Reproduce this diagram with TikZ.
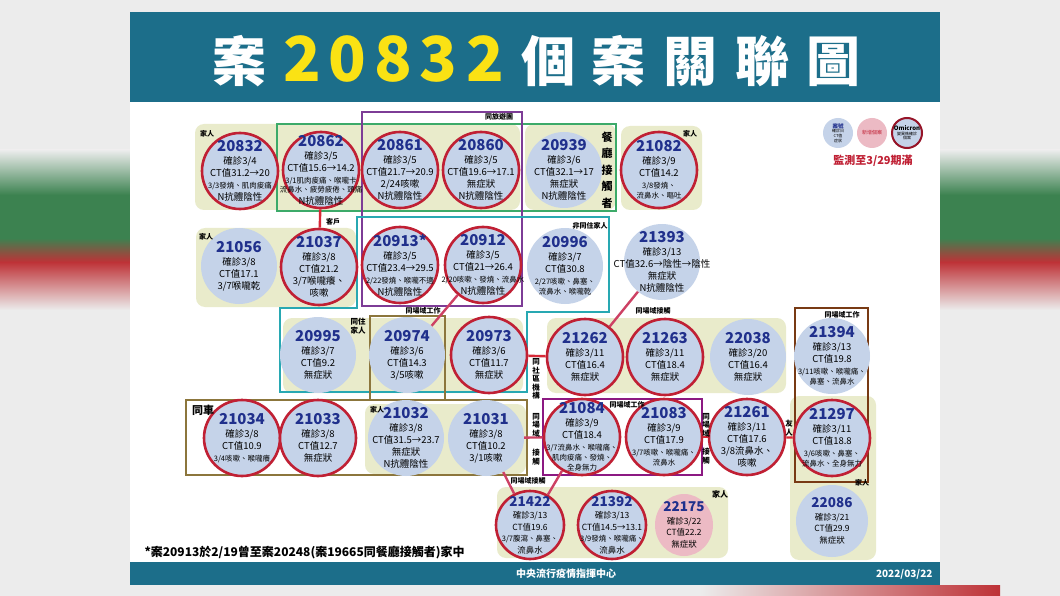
\documentclass[tikz,border=0pt]{standalone}
\usepackage{fontspec}
\setmainfont{Noto Sans CJK TC}
\usetikzlibrary{shapes.geometric}

\definecolor{bandteal}{RGB}{28,110,138}
\definecolor{titleyel}{RGB}{250,226,20}
\definecolor{casefill}{RGB}{197,211,233}
\definecolor{ringred}{RGB}{192,32,52}
\definecolor{casenavy}{RGB}{32,48,140}
\definecolor{famfill}{RGB}{233,235,203}
\definecolor{greenline}{RGB}{60,170,105}
\definecolor{purpleline}{RGB}{125,60,150}
\definecolor{tealline}{RGB}{40,168,178}
\definecolor{oliveline}{RGB}{140,118,60}
\definecolor{magline}{RGB}{140,25,130}
\definecolor{brownline}{RGB}{120,58,20}
\definecolor{linkred}{RGB}{215,40,55}
\definecolor{linkpink}{RGB}{205,65,100}
\definecolor{pinkfill}{RGB}{236,186,196}
\definecolor{ringdark}{RGB}{150,20,40}
\definecolor{bgpale}{RGB}{236,236,236}
\definecolor{bggreen}{RGB}{60,130,80}
\definecolor{bgred}{RGB}{190,50,55}

\def\numfont{\bfseries\fontsize{15}{16}\selectfont\color{casenavy}}
\def\numsmall{\bfseries\fontsize{13.5}{14}\selectfont\color{casenavy}}
\def\symp{\fontsize{7.5}{9}\selectfont}

\begin{document}
\begin{tikzpicture}[x=1pt,y=-1pt,
    case/.style={circle, fill=casefill, minimum size=76pt, inner sep=0pt},
    ringcase/.style={case, draw=ringred, line width=2.6pt},
    info/.style={align=center, inner sep=0pt, font=\fontsize{9.5}{12}\selectfont},
    famzone/.style={fill=famfill, rounded corners=9pt},
    frame/.style={line width=2.2pt},
    link/.style={draw=linkred, line width=2.4pt},
    tag/.style={inner sep=0pt, font=\bfseries\fontsize{7}{8}\selectfont},
    vtag/.style={tag, align=center, font=\bfseries\fontsize{7.5}{8.5}\selectfont}]
    \useasboundingbox (0,0) rectangle (1060,596);

    % blurred surround
    \fill[bgpale] (0,0) rectangle (1060,596);
    \foreach \xa/\xb in {0/130,940/1060} {
      \shade[top color=bgpale, bottom color=bggreen] (\xa,150) rectangle (\xb,195);
      \fill[bggreen] (\xa,195) rectangle (\xb,238);
      \shade[top color=bggreen, bottom color=bgred] (\xa,238) rectangle (\xb,262);
      \shade[top color=bgred, bottom color=bgpale] (\xa,262) rectangle (\xb,310);
    }
    \shade[left color=bgpale, right color=bgred] (700,585) rectangle (1000,596);

    % panel
    \fill[bandteal] (130,12) rectangle (940,102);
    \fill[white] (130,102) rectangle (940,562);
    \fill[bandteal] (130,562) rectangle (940,585);

    \foreach \x/\ch/\col/\sz [count=\i] in {239/案/white/54,302/2/titleyel/62,347/0/titleyel/62,
        393/8/titleyel/62,438/3/titleyel/62,485/2/titleyel/62,548/個/white/54,618/案/white/54,
        690/關/white/54,762/聯/white/54,833/圖/white/54} {
      \node[anchor=base, inner sep=0pt, text=\col, font=\bfseries\fontsize{\sz}{\sz}\selectfont]
        (title\i) at (\x,82) {\ch};
    }
    \node[text=white, font=\bfseries\fontsize{10}{12}\selectfont] (foot) at (566,574) {中央流行疫情指揮中心};
    \node[anchor=east, text=white, font=\bfseries\fontsize{10}{12}\selectfont] (date) at (936,574) {2022/03/22};

    % family zones
    \foreach \xa/\ya/\xb/\yb in {195/124/520/210,525/124/616/210,621/126/702/210,196/228/356/307,
        283/318/523/393,547/318/786/393,365/404/526/474,497/487/728/558,790/396/876/560} {
      \fill[famzone] (\xa,\ya) rectangle (\xb,\yb);
    }

    % group frames
    \draw[frame, draw=greenline] (277,124) rectangle (616,211);
    \draw[frame, draw=purpleline] (362,112) rectangle (522,306);
    \draw[frame, draw=tealline] (357,217) -- (609,217) -- (609,312) -- (527,312) -- (527,392)
      -- (280,392) -- (280,308) -- (357,308) -- cycle;
    \draw[frame, draw=oliveline] (370,316) rectangle (445,400);
    \draw[frame, draw=oliveline] (186,400) rectangle (527,475);
    \draw[frame, draw=magline, line width=2.8pt] (543,399) rectangle (702,475);
    \draw[frame, draw=brownline] (795,308) rectangle (868,482);

    % cases
    \foreach \x/\y/\num/\kind/\txt in {
      240/171/20832/ringcase/{確診3/4\\CT值31.2→20\\{\symp 3/3發燒、肌肉痠痛}\\N抗體陰性},
      321/170/20862/ringcase/{確診3/5\\CT值15.6→14.2\\{\symp 3/1肌肉痠痛、喉嚨卡}\\[-3pt]{\symp 流鼻水、疲勞疲倦、頭痛}\\N抗體陰性},
      400/170/20861/ringcase/{確診3/5\\CT值21.7→20.9\\2/24咳嗽\\N抗體陰性},
      481/170/20860/ringcase/{確診3/5\\CT值19.6→17.1\\無症狀\\N抗體陰性},
      564/170/20939/case/{確診3/6\\CT值32.1→17\\無症狀\\N抗體陰性},
      659/170/21082/ringcase/{確診3/9\\CT值14.2\\{\symp 3/8發燒、}\\[-2pt]{\symp 流鼻水、嘔吐}},
      239/266/21056/case/{確診3/8\\CT值17.1\\3/7喉嚨乾},
      319/267/21037/ringcase/{確診3/8\\CT值21.2\\3/7喉嚨癢、\\咳嗽},
      483/265/20912/ringcase/{確診3/5\\CT值21→26.4\\{\symp 2/20咳嗽、發燒、流鼻水}\\N抗體陰性},
      565/266/20996/case/{確診3/7\\CT值30.8\\{\symp 2/27咳嗽、鼻塞、}\\[-2pt]{\symp 流鼻水、喉嚨乾}},
      662/262/21393/case/{確診3/13\\CT值32.6→陰性→陰性\\無症狀\\N抗體陰性},
      318/355/20995/case/{確診3/7\\CT值9.2\\無症狀},
      407/355/20974/case/{確診3/6\\CT值14.3\\3/5咳嗽},
      489/355/20973/ringcase/{確診3/6\\CT值11.7\\無症狀},
      585/357/21262/ringcase/{確診3/11\\CT值16.4\\無症狀},
      665/357/21263/ringcase/{確診3/11\\CT值18.4\\無症狀},
      748/357/22038/case/{確診3/20\\CT值16.4\\無症狀},
      832/356/21394/case/{確診3/13\\CT值19.8\\{\symp 3/11咳嗽、喉嚨痛、}\\[-2pt]{\symp 鼻塞、流鼻水}},
      242/438/21034/ringcase/{確診3/8\\CT值10.9\\{\symp 3/4咳嗽、喉嚨癢}},
      318/438/21033/ringcase/{確診3/8\\CT值12.7\\無症狀},
      406/438/21032/case/{確診3/8\\CT值31.5→23.7\\無症狀\\N抗體陰性},
      486/438/21031/case/{確診3/8\\CT值10.2\\3/1咳嗽},
      582/437/21084/ringcase/{確診3/9\\CT值18.4\\{\symp 3/7流鼻水、喉嚨痛、}\\[-2pt]{\symp 肌肉痠痛、發燒、}\\[-2pt]{\symp 全身無力}},
      664/437/21083/ringcase/{確診3/9\\CT值17.9\\{\symp 3/7咳嗽、喉嚨痛、}\\[-2pt]{\symp 流鼻水}},
      747/437/21261/ringcase/{確診3/11\\CT值17.6\\3/8流鼻水、\\咳嗽},
      832/438/21297/ringcase/{確診3/11\\CT值18.8\\{\symp 3/6咳嗽、鼻塞、}\\[-2pt]{\symp 流鼻水、全身無力}}} {
      \node[\kind] (c\num) at (\x,\y) {};
      \node[info] (t\num) at (c\num) {{\numfont\num}\\[1pt]\txt};
    }
    \node[ringcase] (c20913) at (400,265) {};
    \node[info] (t20913) at (c20913) {{\numfont 20913*}\\[1pt]確診3/5\\CT值23.4→29.5\\{\symp 2/22發燒、喉嚨不適}\\N抗體陰性};

    \foreach \x/\y/\num/\kind/\sz/\txt in {
      530/525/21422/ringcase/68/{確診3/13\\CT值19.6\\{\symp 3/7腹瀉、鼻塞、}\\流鼻水},
      612/525/21392/ringcase/68/{確診3/13\\CT值14.5→13.1\\{\symp 3/9發燒、喉嚨痛、}\\流鼻水},
      832/521/22086/case/72/{確診3/21\\CT值29.9\\無症狀}} {
      \node[\kind, minimum size=\sz pt] (c\num) at (\x,\y) {};
      \node[info, font=\fontsize{8.5}{11.5}\selectfont] (t\num) at (c\num) {{\numsmall\num}\\[1pt]\txt};
    }
    \node[case, ellipse, fill=pinkfill, minimum width=58pt, minimum height=62pt] (c22175) at (684,525) {};
    \node[info, font=\fontsize{8.5}{11.5}\selectfont] (t22175) at (c22175) {{\numsmall 22175}\\[1pt]確診3/22\\CT值22.2\\無症狀};

    % links
    \draw[link] (c20862) -- (c21037);
    \draw[link, draw=linkpink] (c20912) -- (c20974);
    \draw[link] (c20973) -- (c21262);
    \draw[link, draw=linkpink] (c21393) -- (c21262);
    \draw[link, draw=linkpink] (c21031) -- (c21084);
    \draw[link] (c21083) -- (c21261);
    \draw[link] (c21261) -- (c21297);
    \draw[link, draw=linkpink] (c21031) -- (c21422);
    \draw[link, draw=linkpink] (c21084) -- (c21422);

    % labels
    \node[tag] (fam1) at (207,134) {家人};
    \node[tag] (fam2) at (690,134) {家人};
    \node[tag] (tour) at (499,117) {同旅遊團};
    \node[vtag, font=\bfseries\fontsize{11}{16.5}\selectfont] (diner) at (607,170) {餐\\廳\\接\\觸\\者};
    \node[tag] (client) at (333,222) {客戶};
    \node[tag] (fam3) at (206,237) {家人};
    \node[tag] (nonres) at (590,226) {非同住家人};
    \node[vtag] (cores) at (358,326) {同住\\家人};
    \node[tag] (work1) at (423,311) {同場域工作};
    \node[tag] (cont1) at (653,311) {同場域接觸};
    \node[tag] (work2) at (842,315) {同場域工作};
    \node[tag, font=\bfseries\fontsize{11}{12}\selectfont] (car) at (203,410) {同車};
    \node[tag] (fam4) at (377,410) {家人};
    \node[tag] (work3) at (627,405) {同場域工作};
    \node[tag] (cont2) at (528,481) {同場域接觸};
    \node[tag, font=\bfseries\fontsize{8}{9}\selectfont] (fam5) at (720,494) {家人};
    \node[tag] (fam6) at (862,483) {家人};
    \node[vtag] (comm) at (536,379) {同\\社\\區\\機\\構};
    \node[vtag] (cont3) at (536,425) {同\\場\\域};
    \node[vtag] (cont4) at (536,457) {接\\觸};
    \node[vtag] (cont5) at (706,425) {同\\場\\域};
    \node[vtag] (cont6) at (706,456) {接\\觸};
    \node[vtag] (friend) at (789,428) {友\\人};

    % legend
    \node[case, minimum size=30pt] (key1) at (838,133) {};
    \node[case, fill=pinkfill, minimum size=30pt] (key2) at (872,133) {};
    \node[case, draw=ringdark, line width=2pt, minimum size=30pt] (key3) at (907,133) {};
    \node[align=center, inner sep=0pt, font=\fontsize{4}{4.6}\selectfont] (keyt1) at (key1)
      {{\bfseries\color{casenavy}\fontsize{5.5}{6}\selectfont 案號}\\確診日\\CT值\\症狀};
    \node[inner sep=0pt, text=ringred, font=\fontsize{5}{6}\selectfont] (keyt2) at (key2) {新增個案};
    \node[align=center, inner sep=0pt, font=\fontsize{4}{4.6}\selectfont] (keyt3) at (key3)
      {{\bfseries\fontsize{6}{6.5}\selectfont Omicron}\\變異株確診\\個案};
    \node[text=ringred, font=\bfseries\fontsize{11}{12}\selectfont] (watch) at (873,161) {監測至3/29期滿};

    \node[anchor=west, font=\bfseries\fontsize{12}{14}\selectfont] (note) at (141,552)
      {*案20913於2/19曾至案20248(案19665同餐廳接觸者)家中};
\end{tikzpicture}
\end{document}
